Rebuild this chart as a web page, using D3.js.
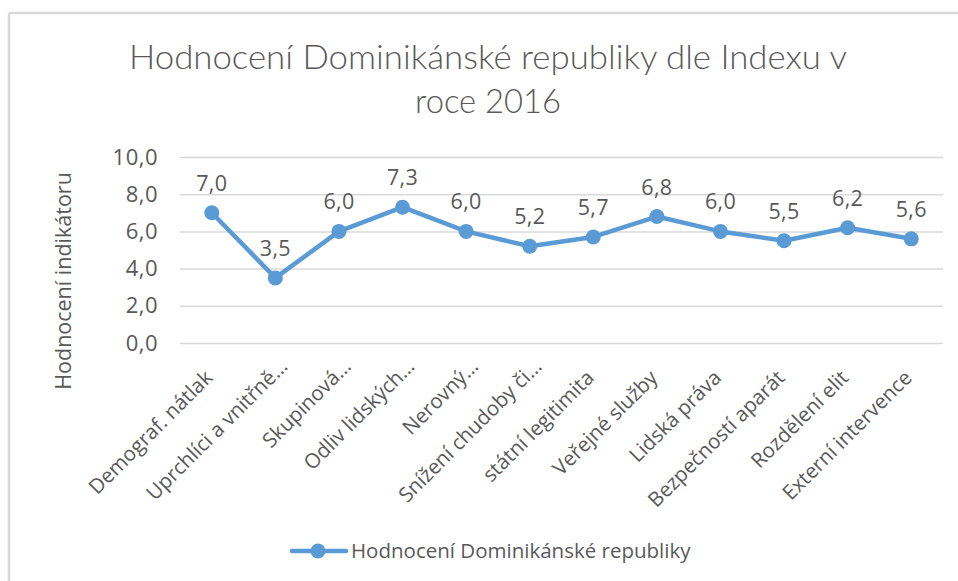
<!DOCTYPE html>
<html>
<head>
<meta charset="utf-8">
<script src="https://cdn.jsdelivr.net/npm/d3@7/dist/d3.min.js"></script>
<style>
  html, body { margin: 0; padding: 0; background: #fff; }
  svg { display: block; }
  text { font-family: "Open Sans", sans-serif; fill: #595959; }
</style>
</head>
<body>
<svg id="chart" width="958" height="581"></svg>
<script>
const titleLines = ["Hodnocení Dominikánské republiky dle Indexu v", "roce 2016"];
const yAxisTitle = "Hodnocení indikátoru";
const seriesName = "Hodnocení Dominikánské republiky";
const categories = [
  "Demograf. nátlak",
  "Uprchlíci a vnitřně…",
  "Skupinová…",
  "Odliv lidských…",
  "Nerovný…",
  "Snížení chudoby či…",
  "státní legitimita",
  "Veřejné služby",
  "Lidská práva",
  "Bezpečností aparát",
  "Rozdělení elit",
  "Externí intervence"
];
const values = [7.0, 3.5, 6.0, 7.3, 6.0, 5.2, 5.7, 6.8, 6.0, 5.5, 6.2, 5.6];
const yTicks = [0, 2, 4, 6, 8, 10];

const color = "#5B9BD5";
const fmt = v => d3.format(".1f")(v).replace(".", ",");

const svg = d3.select("#chart");

// chart border (top and left visible)
svg.append("line").attr("x1", 9).attr("x2", 958).attr("y1", 13).attr("y2", 13)
  .attr("stroke", "#d9d9d9").attr("stroke-width", 2.5);
svg.append("line").attr("x1", 9).attr("x2", 9).attr("y1", 13).attr("y2", 581)
  .attr("stroke", "#d9d9d9").attr("stroke-width", 2.5);

const x = d3.scaleBand().domain(categories).range([180, 943]);
const y = d3.scaleLinear().domain([0, 10]).range([343, 157]);

// title
const tl = svg.append("g");
tl.append("text").attr("x", 488).attr("y", 69).attr("text-anchor", "middle")
  .style("font-family", "Lato, 'Open Sans', sans-serif")
  .style("font-weight", 300)
  .attr("font-size", 33)
  .attr("textLength", 718).attr("lengthAdjust", "spacingAndGlyphs")
  .text(titleLines[0]);
tl.append("text").attr("x", 488).attr("y", 113).attr("text-anchor", "middle")
  .style("font-family", "Lato, 'Open Sans', sans-serif")
  .style("font-weight", 300)
  .attr("font-size", 33)
  .attr("textLength", 146).attr("lengthAdjust", "spacingAndGlyphs")
  .text(titleLines[1]);

// gridlines + y axis labels
const yAxis = d3.axisLeft(y).tickValues(yTicks).tickSize(-(943 - 180)).tickFormat(fmt).tickPadding(22);
const gy = svg.append("g").attr("transform", "translate(180,0)").call(yAxis);
gy.select(".domain").remove();
gy.selectAll(".tick line").attr("stroke", "#d9d9d9").attr("stroke-width", 1.5);
gy.selectAll(".tick text").attr("font-size", 22).attr("fill", "#595959")
  .attr("letter-spacing", 0.5);

// y axis title
svg.append("text")
  .attr("transform", "translate(71,281) rotate(-90)")
  .attr("text-anchor", "middle")
  .attr("font-size", 21.5)
  .text(yAxisTitle);

// x axis labels
const xl = svg.append("g");
categories.forEach(c => {
  const cx = x(c) + x.bandwidth() / 2;
  const parts = c.split("…");
  const g = xl.append("g").attr("transform", `translate(${cx + 2},${379}) rotate(-45)`);
  g.append("text").attr("text-anchor", "end").attr("font-size", 20.5).text(parts[0]);
  if (c.includes("…")) {
    g.append("text").attr("text-anchor", "start").attr("font-size", 20.5).text("…");
  }
});

// line
const line = d3.line()
  .x((d, i) => x(categories[i]) + x.bandwidth() / 2)
  .y(d => y(d));
svg.append("path").datum(values)
  .attr("d", line).attr("fill", "none")
  .attr("stroke", color).attr("stroke-width", 4.5)
  .attr("stroke-linejoin", "round").attr("stroke-linecap", "round");

svg.append("g").selectAll("circle").data(values).join("circle")
  .attr("cx", (d, i) => x(categories[i]) + x.bandwidth() / 2)
  .attr("cy", d => y(d))
  .attr("r", 7.5)
  .attr("fill", color);

// data labels
svg.append("g").selectAll("text").data(values).join("text")
  .attr("x", (d, i) => x(categories[i]) + x.bandwidth() / 2)
  .attr("y", d => y(d) - 22)
  .attr("text-anchor", "middle")
  .attr("font-size", 21.5)
  .attr("letter-spacing", 0.3)
  .text(fmt);

// legend
const lg = svg.append("g");
lg.append("line").attr("x1", 292).attr("x2", 346).attr("y1", 551).attr("y2", 551)
  .attr("stroke", color).attr("stroke-width", 4.5).attr("stroke-linecap", "round");
lg.append("circle").attr("cx", 318).attr("cy", 551).attr("r", 7.5).attr("fill", color);
lg.append("text").attr("x", 351).attr("y", 558).attr("font-size", 20.5).text(seriesName);
</script>
</body>
</html>
